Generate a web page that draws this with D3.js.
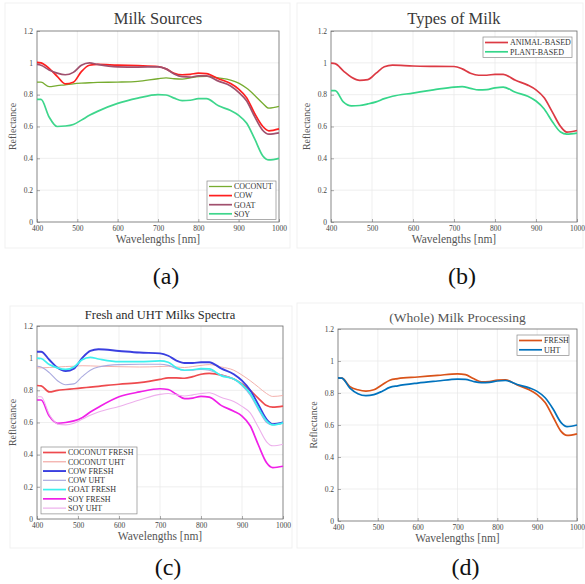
<!DOCTYPE html>
<html>
<head>
<meta charset="utf-8">
<script src="https://cdn.jsdelivr.net/npm/d3@7"></script>
<style>
  html, body { margin: 0; padding: 0; background: #fff; }
  svg { display: block; }
</style>
</head>
<body>
<svg id="chart" width="585" height="584" font-family="Liberation Serif"></svg>
<script>
(function () {
    'use strict';

    // wavelength grid shared by every spectrum (nm)
    var wl = [400, 410, 430, 450, 470, 490, 510, 530, 550, 600, 650, 700, 720, 740, 760, 780, 800, 820, 850, 880, 900, 920, 940, 960, 975, 1000];

    // (a) milk sources
    var coconut = [0.879, 0.879, 0.85, 0.857, 0.862, 0.868, 0.872, 0.875, 0.877, 0.879, 0.884, 0.9, 0.905, 0.9, 0.898, 0.905, 0.913, 0.915, 0.905, 0.892, 0.873, 0.84, 0.795, 0.745, 0.715, 0.726];
    var cow = [1.003, 1.0, 0.965, 0.915, 0.868, 0.878, 0.945, 0.985, 0.99, 0.985, 0.982, 0.977, 0.962, 0.935, 0.925, 0.928, 0.935, 0.932, 0.9, 0.87, 0.835, 0.78, 0.68, 0.6, 0.573, 0.585];
    var goat = [0.99, 0.985, 0.955, 0.935, 0.925, 0.94, 0.985, 1.0, 0.99, 0.975, 0.973, 0.975, 0.962, 0.93, 0.913, 0.91, 0.918, 0.918, 0.885, 0.855, 0.815, 0.76, 0.66, 0.575, 0.552, 0.56];
    var soy = [0.77, 0.77, 0.66, 0.6, 0.603, 0.613, 0.64, 0.67, 0.695, 0.745, 0.778, 0.8, 0.798, 0.778, 0.763, 0.765, 0.775, 0.775, 0.73, 0.7, 0.67, 0.62, 0.52, 0.415, 0.39, 0.4];

    // (b) types of milk
    var animalBased = [0.998, 0.995, 0.95, 0.91, 0.89, 0.895, 0.935, 0.975, 0.985, 0.98, 0.978, 0.977, 0.962, 0.935, 0.922, 0.922, 0.928, 0.928, 0.89, 0.86, 0.83, 0.78, 0.69, 0.6, 0.565, 0.575];
    var plantBased = [0.825, 0.825, 0.755, 0.73, 0.732, 0.742, 0.755, 0.775, 0.79, 0.81, 0.83, 0.848, 0.85, 0.84, 0.83, 0.832, 0.843, 0.848, 0.815, 0.79, 0.76, 0.71, 0.63, 0.565, 0.552, 0.558];

    // (c) fresh and UHT
    var coconutFresh = [0.83, 0.828, 0.79, 0.8, 0.805, 0.81, 0.815, 0.82, 0.825, 0.838, 0.848, 0.868, 0.878, 0.878, 0.875, 0.885, 0.9, 0.905, 0.895, 0.87, 0.84, 0.8, 0.75, 0.705, 0.695, 0.702];
    var coconutUht = [0.94, 0.94, 0.942, 0.945, 0.948, 0.95, 0.953, 0.952, 0.95, 0.947, 0.945, 0.948, 0.95, 0.945, 0.942, 0.948, 0.955, 0.96, 0.945, 0.925, 0.895, 0.86, 0.82, 0.78, 0.762, 0.768];
    var cowFresh = [1.04, 1.04, 0.99, 0.94, 0.92, 0.935, 1.0, 1.045, 1.055, 1.045, 1.035, 1.03, 1.015, 0.985, 0.97, 0.97, 0.975, 0.975, 0.935, 0.9, 0.86, 0.8, 0.71, 0.62, 0.59, 0.6];
    var cowUht = [0.95, 0.945, 0.91, 0.86, 0.835, 0.84, 0.885, 0.925, 0.945, 0.96, 0.962, 0.962, 0.955, 0.935, 0.925, 0.925, 0.93, 0.925, 0.895, 0.87, 0.83, 0.77, 0.68, 0.6, 0.585, 0.595];
    var goatFresh = [1.0, 0.998, 0.96, 0.94, 0.93, 0.945, 0.99, 1.005, 0.995, 0.978, 0.978, 0.983, 0.975, 0.94, 0.925, 0.928, 0.935, 0.933, 0.89, 0.87, 0.835, 0.78, 0.69, 0.61, 0.585, 0.598];
    var soyFresh = [0.74, 0.74, 0.64, 0.595, 0.6, 0.61, 0.63, 0.665, 0.695, 0.76, 0.79, 0.81, 0.805, 0.775, 0.748, 0.752, 0.762, 0.758, 0.705, 0.67, 0.64, 0.58, 0.46, 0.35, 0.32, 0.328];
    var soyUht = [0.76, 0.76, 0.65, 0.59, 0.585, 0.595, 0.62, 0.645, 0.665, 0.7, 0.74, 0.775, 0.78, 0.772, 0.765, 0.772, 0.78, 0.785, 0.755, 0.73, 0.7, 0.66, 0.57, 0.48, 0.455, 0.465];

    // (d) whole milk processing
    var fresh = [0.895, 0.893, 0.84, 0.82, 0.812, 0.82, 0.85, 0.88, 0.89, 0.9, 0.91, 0.92, 0.915, 0.89, 0.87, 0.872, 0.88, 0.882, 0.85, 0.82, 0.79, 0.74, 0.65, 0.56, 0.535, 0.545];
    var uht = [0.895, 0.893, 0.83, 0.795, 0.783, 0.79, 0.81, 0.835, 0.845, 0.862, 0.875, 0.887, 0.885, 0.872, 0.865, 0.867, 0.875, 0.878, 0.853, 0.832, 0.81, 0.77, 0.7, 0.615, 0.59, 0.6];

    var xTicks = [400, 500, 600, 700, 800, 900, 1000];
    var yTicks = [0, 0.2, 0.4, 0.6, 0.8, 1, 1.2];

    var panels = [
        {
            title: 'Milk Sources', titleSize: 16.5, titleColor: '#3a3a3a', caption: '(a)', capY: 284,
            frame: [5, 3, 290, 248], plot: [37, 31, 279, 222],
            legend: { x: 207, y: 181, w: 69, rows: 9.1 },
            series: [
                { name: 'COCONUT', values: coconut, color: '#77ac30', width: 1.3 },
                { name: 'COW', values: cow, color: '#ff1f1f', width: 1.7 },
                { name: 'GOAT', values: goat, color: '#a0506e', width: 1.7 },
                { name: 'SOY', values: soy, color: '#3ed68c', width: 1.7 }
            ]
        },
        {
            title: 'Types of Milk', titleSize: 16.5, titleColor: '#3a3a3a', caption: '(b)', capY: 284,
            frame: [297, 3, 583, 248], plot: [331, 31, 577, 222],
            legend: { x: 483, y: 37, w: 89, rows: 9.3 },
            series: [
                { name: 'ANIMAL-BASED', values: animalBased, color: '#dc3a44', width: 1.7 },
                { name: 'PLANT-BASED', values: plantBased, color: '#36d68a', width: 1.7 }
            ]
        },
        {
            title: 'Fresh and UHT Milks Spectra', titleSize: 12.5, titleColor: '#2a2a2a', caption: '(c)', capY: 575,
            frame: [10, 306, 292, 548], plot: [37, 326, 283, 519],
            legend: { x: 41, y: 447, w: 96, rows: 9.27 },
            series: [
                { name: 'COCONUT FRESH', values: coconutFresh, color: '#ee4a4e', width: 1.7 },
                { name: 'COCONUT UHT', values: coconutUht, color: '#f2a8a4', width: 0.9 },
                { name: 'COW FRESH', values: cowFresh, color: '#3a3fe0', width: 1.9 },
                { name: 'COW UHT', values: cowUht, color: '#aaaadf', width: 1.1 },
                { name: 'GOAT FRESH', values: goatFresh, color: '#3ef0ee', width: 1.7 },
                { name: 'SOY FRESH', values: soyFresh, color: '#f020e8', width: 1.7 },
                { name: 'SOY UHT', values: soyUht, color: '#edb0ec', width: 1.1 }
            ]
        },
        {
            title: '(Whole) Milk Processing', titleSize: 13.5, titleColor: '#555', caption: '(d)', capY: 575,
            frame: [297, 303, 583, 548], plot: [338, 329, 577, 521],
            legend: { x: 517, y: 335, w: 52, rows: 9.3 },
            series: [
                { name: 'FRESH', values: fresh, color: '#d95319', width: 1.7 },
                { name: 'UHT', values: uht, color: '#0072bd', width: 1.7 }
            ]
        }
    ];

    var svg = d3.select('#chart');

    panels.forEach(function (p) {
        var x0 = p.plot[0], y0 = p.plot[1], x1 = p.plot[2], y1 = p.plot[3];
        var x = d3.scaleLinear().domain([400, 1000]).range([x0, x1]);
        var y = d3.scaleLinear().domain([0, 1.2]).range([y1, y0]);
        var g = svg.append('g');

        // faint figure frame
        g.append('rect')
            .attr('x', p.frame[0]).attr('y', p.frame[1])
            .attr('width', p.frame[2] - p.frame[0]).attr('height', p.frame[3] - p.frame[1])
            .attr('fill', 'none').attr('stroke', '#f1f1f1');

        // grid
        g.selectAll('.gx').data(xTicks.slice(1, -1)).enter().append('line')
            .attr('x1', function (d) { return x(d); }).attr('x2', function (d) { return x(d); })
            .attr('y1', y0).attr('y2', y1)
            .attr('stroke', '#e8e8e8').attr('stroke-width', 0.7);
        g.selectAll('.gy').data(yTicks.slice(1, -1)).enter().append('line')
            .attr('y1', function (d) { return y(d); }).attr('y2', function (d) { return y(d); })
            .attr('x1', x0).attr('x2', x1)
            .attr('stroke', '#e8e8e8').attr('stroke-width', 0.7);

        // axes with inward ticks
        var xAxis = d3.axisBottom(x).tickValues(xTicks).tickSize(-3).tickPadding(4).tickFormat(d3.format('d'));
        var yAxis = d3.axisLeft(y).tickValues(yTicks).tickSize(-3).tickPadding(4).tickFormat(function (d) { return d3.format('~g')(d); });
        var gx = g.append('g').attr('transform', 'translate(0,' + y1 + ')').call(xAxis);
        var gy = g.append('g').attr('transform', 'translate(' + x0 + ',0)').call(yAxis);
        [gx, gy].forEach(function (a) {
            a.attr('font-family', null);
            a.select('.domain').remove();
            a.selectAll('line').attr('stroke', '#777').attr('stroke-width', 0.6);
            a.selectAll('text').attr('font-size', 7.5).attr('fill', '#444');
        });
        gy.selectAll('text').attr('dy', '0.3em');

        // box
        g.append('rect')
            .attr('x', x0).attr('y', y0).attr('width', x1 - x0).attr('height', y1 - y0)
            .attr('fill', 'none').attr('stroke', '#6a6a6a').attr('stroke-width', 0.8);

        // spectra
        var line = d3.line()
            .x(function (d, i) { return x(wl[i]); })
            .y(function (d) { return y(d); })
            .curve(d3.curveMonotoneX);
        g.selectAll('.spec').data(p.series).enter().append('path')
            .attr('d', function (s) { return line(s.values); })
            .attr('fill', 'none')
            .attr('stroke', function (s) { return s.color; })
            .attr('stroke-width', function (s) { return s.width; })
            .attr('stroke-linejoin', 'round');

        // legend
        var L = p.legend;
        var lh = p.series.length * L.rows + 2;
        g.append('rect')
            .attr('x', L.x).attr('y', L.y).attr('width', L.w).attr('height', lh)
            .attr('fill', '#fff').attr('stroke', '#8a8a8a').attr('stroke-width', 0.7);
        var rows = g.selectAll('.lg').data(p.series).enter().append('g')
            .attr('transform', function (s, i) { return 'translate(' + L.x + ',' + (L.y + 5.5 + i * L.rows) + ')'; });
        rows.append('line')
            .attr('x1', 2).attr('x2', 25).attr('y1', 0).attr('y2', 0)
            .attr('stroke', function (s) { return s.color; })
            .attr('stroke-width', function (s) { return Math.max(s.width, 1.2); });
        rows.append('text')
            .attr('x', 27).attr('y', 2.8)
            .attr('font-size', 8).attr('fill', '#333')
            .text(function (s) { return s.name; });

        // titles and labels
        var cx = (x0 + x1) / 2, cy = (y0 + y1) / 2;
        g.append('text')
            .attr('x', cx).attr('y', y0 - 7)
            .attr('text-anchor', 'middle')
            .attr('font-size', p.titleSize).attr('fill', p.titleColor)
            .text(p.title);
        g.append('text')
            .attr('x', cx).attr('y', y1 + 21)
            .attr('text-anchor', 'middle')
            .attr('font-size', 11.5).attr('fill', '#555')
            .text('Wavelengths [nm]');
        g.append('text')
            .attr('transform', 'translate(' + (x0 - 21) + ',' + cy + ') rotate(-90)')
            .attr('text-anchor', 'middle')
            .attr('font-size', 10).attr('fill', '#555')
            .text('Reflectance');
        g.append('text')
            .attr('x', cx + 8).attr('y', p.capY)
            .attr('text-anchor', 'middle')
            .attr('font-size', 24).attr('fill', '#111')
            .text(p.caption);
    });
})();
</script>
</body>
</html>
